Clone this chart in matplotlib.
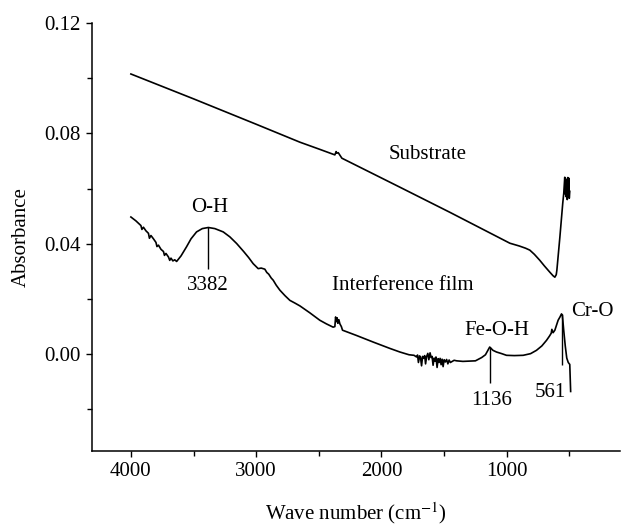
import matplotlib
matplotlib.use("Agg")
import matplotlib.pyplot as plt
from matplotlib.ticker import MultipleLocator

plt.rcParams['font.family'] = ['Liberation Serif', 'DejaVu Serif']
plt.rcParams['mathtext.fontset'] = 'stix'

# FTIR spectra as (wavenumber cm-1, absorbance) pairs
substrate = [
    (4000, 0.1015), (3500, 0.0925), (3000, 0.0833), (2651, 0.0768),
    (2492, 0.0742), (2372, 0.0722), (2362, 0.0734), (2356, 0.0728),
    (2345, 0.0730), (2316, 0.0710), (1853, 0.0605), (1454, 0.0514),
    (975, 0.0402), (900, 0.0392), (850, 0.0384), (816, 0.0377),
    (780, 0.0362), (736, 0.0340), (700, 0.0320), (656, 0.0297),
    (630, 0.0284), (616, 0.0279), (605, 0.0288), (600, 0.0304),
    (576, 0.0424), (553, 0.0547), (545, 0.0583),
    (537, 0.0641), (533, 0.0580), (529, 0.0635), (525, 0.0570),
    (521, 0.0630), (517, 0.0560), (513, 0.0640), (509, 0.0575),
    (505, 0.0638), (501, 0.0565), (497, 0.0590),
]

film = [
    (4000, 0.0497), (3960, 0.0483), (3920, 0.0466), (3912, 0.0452),
    (3900, 0.0460), (3880, 0.0447), (3860, 0.0438), (3852, 0.0420),
    (3840, 0.0430), (3820, 0.0418), (3800, 0.0405), (3792, 0.0390),
    (3780, 0.0395), (3760, 0.0380), (3740, 0.0372), (3732, 0.0358),
    (3720, 0.0365), (3700, 0.0352), (3690, 0.0340), (3680, 0.0348),
    (3665, 0.0338), (3650, 0.0342), (3635, 0.0336), (3600, 0.0356),
    (3556, 0.0389), (3520, 0.0418), (3476, 0.0443), (3430, 0.0455),
    (3382, 0.0459), (3330, 0.0455), (3263, 0.0443), (3210, 0.0425),
    (3156, 0.0401), (3100, 0.0372), (3060, 0.0350), (3024, 0.0328),
    (2995, 0.0315), (2984, 0.0310), (2960, 0.0312), (2931, 0.0308),
    (2915, 0.0296), (2900, 0.0290), (2880, 0.0276), (2864, 0.0268),
    (2840, 0.0250), (2811, 0.0232), (2770, 0.0212), (2731, 0.0195),
    (2690, 0.0185), (2651, 0.0175), (2572, 0.0150), (2492, 0.0123),
    (2440, 0.0110), (2386, 0.0098), (2372, 0.0100), (2366, 0.0135),
    (2360, 0.0118), (2354, 0.0132), (2348, 0.0112), (2340, 0.0125),
    (2332, 0.0110), (2320, 0.0100), (2311, 0.0087), (2200, 0.0068),
    (2066, 0.0044), (1933, 0.0021), (1853, 0.0008), (1780, -0.0002),
    (1740, -0.0004), (1720, -0.0010), (1712, -0.0003), (1705, -0.0030),
    (1695, -0.0006), (1688, -0.0012), (1680, -0.0042), (1672, -0.0008),
    (1665, -0.0015), (1655, -0.0005), (1648, -0.0035), (1640, -0.0009),
    (1630, 0.0003), (1622, -0.0020), (1612, 0.0005), (1604, -0.0012),
    (1596, -0.0008), (1588, -0.0040), (1580, -0.0014), (1572, -0.0025),
    (1565, -0.0010), (1556, -0.0048), (1548, -0.0016), (1540, -0.0030),
    (1532, -0.0015), (1524, -0.0038), (1516, -0.0018), (1508, -0.0045),
    (1500, -0.0020), (1490, -0.0028), (1480, -0.0019), (1470, -0.0035),
    (1460, -0.0021), (1450, -0.0030), (1420, -0.0022), (1400, -0.0024),
    (1350, -0.0026), (1250, -0.0024), (1200, -0.0012), (1170, -0.0002),
    (1136, 0.0026), (1110, 0.0014), (1082, 0.0008), (1040, 0.0002),
    (1002, -0.0004), (940, -0.0005), (869, -0.0004), (810, 0.0002),
    (763, 0.0014), (720, 0.0030), (683, 0.0050), (660, 0.0065),
    (645, 0.0076), (640, 0.0090), (630, 0.0078), (616, 0.0087),
    (590, 0.0123), (575, 0.0135), (563, 0.0146), (556, 0.0141),
    (545, 0.0085), (533, 0.0030), (521, -0.0014), (509, -0.0030),
    (497, -0.0037), (490, -0.0135),
]

# peak markers: wavenumber, top and bottom of the vertical line
peak_wn = [3382, 1136, 561]
peak_top = [0.0459, 0.0026, 0.0146]
peak_bottom = [0.0310, -0.0106, -0.0040]

substrate_wn, substrate_abs = zip(*substrate)
film_wn, film_abs = zip(*film)

fig = plt.figure(figsize=(6.22, 5.27), dpi=100)
ax = fig.add_axes([0.148, 0.144, 0.849, 0.8125])

ax.plot(substrate_wn, substrate_abs, color='black', lw=1.2)
ax.plot(film_wn, film_abs, color='black', lw=1.2)
ax.vlines(peak_wn, peak_bottom, peak_top, color='black', lw=1.0)

fs = 15
ax.text(3370, 0.0533, 'O-H', ha='center', va='center', fontsize=fs)
ax.text(3386, 0.0250, '3382', ha='center', va='center', fontsize=fs)
ax.text(1630, 0.0725, 'Substrate', ha='center', va='center', fontsize=fs)
ax.text(1829, 0.0250, 'Interference film', ha='center', va='center', fontsize=fs)
ax.text(1079, 0.0087, 'Fe-O-H', ha='center', va='center', fontsize=fs)
ax.text(1119, -0.0167, '1136', ha='center', va='center', fontsize=fs)
ax.text(656, -0.0137, '561', ha='center', va='center', fontsize=fs)
ax.text(313, 0.0153, 'Cr-O', ha='center', va='center', fontsize=fs)

ax.set_xlim(4310, 95)
ax.set_ylim(-0.0351, 0.12)
ax.xaxis.set_minor_locator(MultipleLocator(500))
ax.set_xticks([4000, 3000, 2000, 1000])
ax.set_yticks([0.00, 0.04, 0.08, 0.12])
ax.set_yticks([-0.02, 0.02, 0.06, 0.10], minor=True)
ax.set_yticklabels(['0.00', '0.04', '0.08', '0.12'])

for side in ['top', 'right']:
    ax.spines[side].set_visible(False)
for side in ['left', 'bottom']:
    ax.spines[side].set_linewidth(1.1)

ax.tick_params(which='major', length=4.5, width=1.0, labelsize=fs, direction='out')
ax.tick_params(which='minor', length=3.5, width=1.0, direction='out')

ax.set_xlabel('Wave number (cm$^{-1}$)', fontsize=fs, labelpad=14)
ax.set_ylabel('Absorbance', fontsize=fs, labelpad=10)

fig.savefig('out.png', dpi=100)
